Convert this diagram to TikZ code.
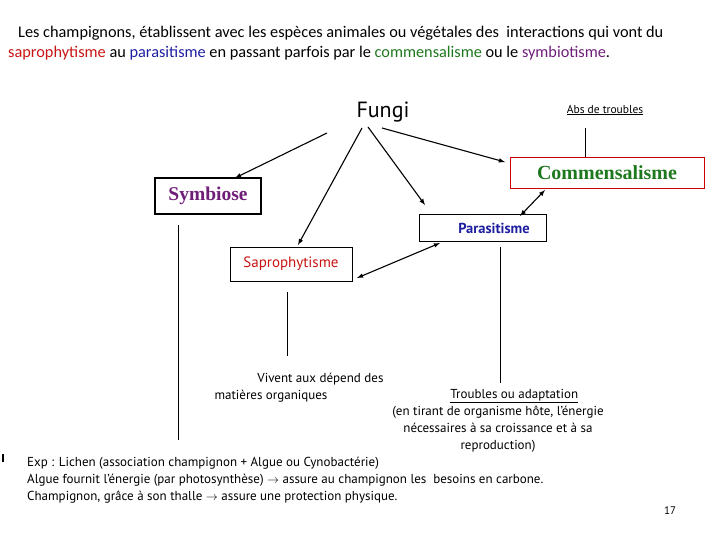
\documentclass[tikz,border=0pt]{standalone}
\usepackage{fontspec}
\setmainfont{PT Sans}
\newfontfamily\serifbf{Liberation Serif}
\newfontfamily\titlefont{Carlito}
\usetikzlibrary{positioning,arrows}
\definecolor{sapred}{RGB}{200,20,20}
\definecolor{parblue}{RGB}{30,30,160}
\definecolor{comgreen}{RGB}{30,120,30}
\definecolor{sympurple}{RGB}{110,30,120}
\tikzset{
	box/.style   = {draw, rectangle, inner sep=0pt, font=\fontsize{15}{17}\selectfont},
	note/.style  = {align=center, font=\fontsize{13}{17}\selectfont, inner sep=0pt},
	link/.style  = {->, line width=1.1pt},
	dlink/.style = {<->, line width=1.1pt}
}
\begin{document}
\begin{tikzpicture}[x=1pt,y=-1pt,>=latex]
	\useasboundingbox (0,0) rectangle (720,540);
	% title
	\node[note, align=left, anchor=west, font=\titlefont\fontsize{16.3}{20}\selectfont] (title) at (8,43)
		{\hspace*{10pt}Les champignons, établissent avec les espèces animales ou végétales des \ interactions qui vont du\\
		{\color{sapred}saprophytisme} au {\color{parblue}parasitisme} en passant parfois par le {\color{comgreen}commensalisme} ou le {\color{sympurple}symbiotisme}.};
	% main nodes
	\node[font=\fontsize{22}{24}\selectfont] (fungi) at (383,112) {Fungi};
	\node[note, font=\fontsize{11.5}{13}\selectfont] (abs) at (605,110) {\underline{Abs de troubles}};
	\node[box, draw=red!80!black, thick, minimum width=194, minimum height=31, font=\serifbf\bfseries\fontsize{20}{22}\selectfont, text=comgreen] (com) at (607,173) {Commensalisme};
	\node[box, very thick, minimum width=106, minimum height=36, font=\serifbf\bfseries\fontsize{19.5}{22}\selectfont, text=sympurple] (sym) at (208,196) {Symbiose};
	\node[box, minimum width=127, minimum height=27, text=parblue, font=\bfseries\fontsize{14.5}{17}\selectfont] (par) at (483,228) {\hspace*{22pt}Parasitisme};
	\node[box, minimum width=122, minimum height=34, text=sapred] (sap) at (291,264) {Saprophytisme};
	% end points
	\coordinate (f1) at (327,133);
	\coordinate (f2) at (362,128);
	\coordinate (f3) at (368,127);
	\coordinate (f4) at (382,128);
	\coordinate (p1) at (520,216);
	\coordinate (p2) at (545,190);
	\coordinate (q1) at (357,278);
	\coordinate (q2) at (440,243);
	% arrows
	\draw[link] (f1) -- (235,178);
	\draw[link] (f2) -- (298,245);
	\draw[link] (f3) -- (425,205);
	\draw[link] (f4) -- (505,162);
	\draw[dlink] (p1) -- (p2);
	\draw[dlink] (q1) -- (q2);
	% lines
	\draw (178,225) -- (178,440);
	\draw (287,292) -- (287,356);
	\draw (500,247) -- (500,383);
	\draw (585,128) -- (585,157);
	% texts
	\node[note, align=left] (viv) at (299,388) {\hspace*{3.3em}Vivent aux dépend des\\matières organiques};
	\node[note] (trb) at (498,421) {\hspace*{2.5em}\underline{Troubles ou adaptation}\\(en tirant de organisme hôte, l’énergie\\nécessaires à sa croissance et à sa\\reproduction)};
	\node[note, align=left, anchor=west] (exp) at (27,480) {Exp : Lichen (association champignon + Algue ou Cynobactérie)\\Algue fournit l’énergie (par photosynthèse) $\rightarrow$ assure au champignon les \ besoins en carbone.\\Champignon, grâce à son thalle $\rightarrow$ assure une protection physique.};
	\node[note, font=\fontsize{11}{12}\selectfont] (num) at (670,511) {17};
	\node[fill, minimum width=1.5, minimum height=8, inner sep=0pt] (mark) at (3,458) {};
\end{tikzpicture}
\end{document}
